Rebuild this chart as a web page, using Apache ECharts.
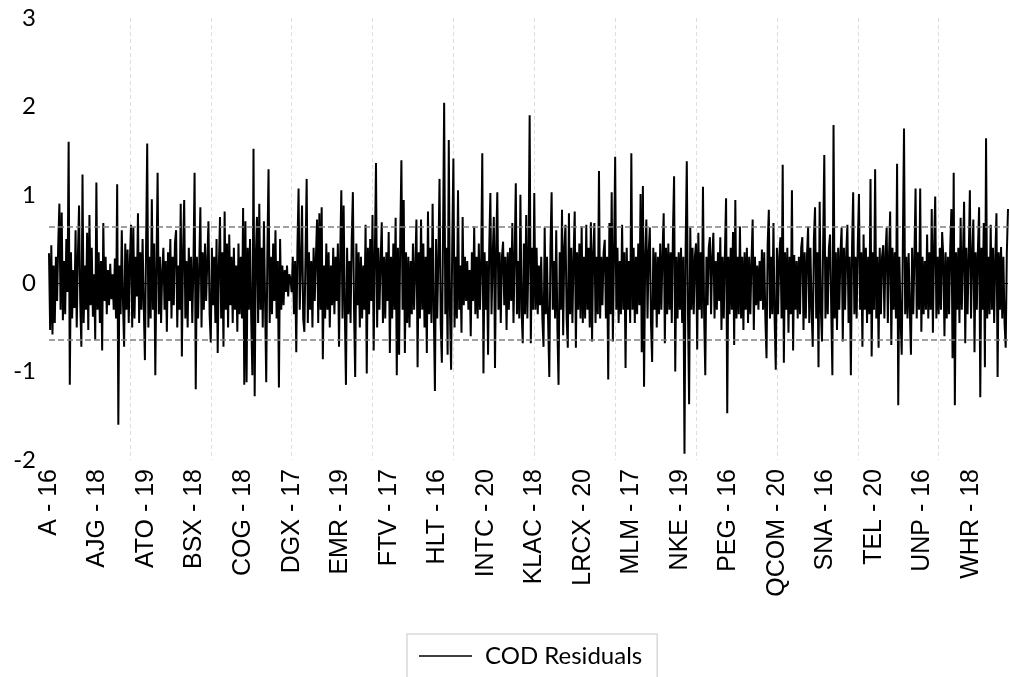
<!DOCTYPE html>
<html>
<head>
<meta charset="utf-8">
<script src="https://cdn.jsdelivr.net/npm/echarts@6/dist/echarts.min.js"></script>
<style>html,body{margin:0;padding:0;background:#fff}#c{width:1010px;height:677px}</style>
</head>
<body>
<div id="c"></div>
<script>
const tickLabels = ['A - 16','AJG - 18','ATO - 19','BSX - 18','COG - 18','DGX - 17','EMR - 19','FTV - 17','HLT - 16','INTC - 20','KLAC - 18','LRCX - 20','MLM - 17','NKE - 19','PEG - 16','QCOM - 20','SNA - 16','TEL - 20','UNP - 16','WHR - 18'];
const labelEvery = 42;
const gridEvery = 70;
const bandLevels = [0.635, -0.635];
const residuals = [
0.34,-0.53,0.43,-0.58,0.2,-0.45,0.3,-0.2,0.45,0.9,-0.3,0.8,-0.42,0.25,-0.35,0.5,-0.1,1.6,-1.15,0.35,-0.4,0.15,-0.28,0.6,-0.5,0.3,0.88,-0.2,-0.72,1.23,-0.45,0.2,-0.3,0.57,-0.53,0.77,-0.25,0.4,-0.38,0.1,-0.64,1.14,
-0.3,0.35,-0.45,0.25,-0.76,0.68,-0.2,0.3,-0.35,0.15,-0.25,0.22,-0.18,0.1,-0.3,0.28,-0.4,1.12,-1.6,0.2,-0.35,0.6,-0.2,-0.72,0.45,-0.3,0.38,-0.45,0.25,0.66,-0.5,0.63,-0.4,0.3,-0.15,0.79,-0.45,0.35,-0.3,0.5,-0.25,-0.87,
0.4,1.58,-0.5,0.3,-0.4,0.95,-0.3,0.45,-1.04,0.2,1.25,-0.35,0.3,-0.45,0.15,0.4,-0.3,0.25,-0.55,0.35,-0.2,0.5,-0.4,0.3,-0.25,0.45,0.6,-0.5,0.2,-0.3,0.9,-0.83,0.35,0.94,-0.4,0.25,-0.5,0.4,-0.2,0.3,-0.45,0.2,
1.25,-1.2,0.3,-0.4,0.2,0.86,-0.5,0.35,-0.3,0.45,-0.2,0.25,0.7,-0.35,-0.67,0.4,-0.25,0.3,-0.45,0.5,-0.79,0.2,0.75,-0.4,0.35,-0.72,0.81,-0.3,0.45,-0.5,0.55,-0.25,0.3,-0.45,0.4,-0.3,0.2,-0.55,0.45,-0.35,0.3,-0.4,
0.85,-1.15,0.7,-1.12,0.4,-0.3,0.5,-0.4,-1.04,1.52,-1.28,0.3,0.75,-0.45,0.9,-0.3,0.4,-0.5,0.7,-0.2,-1.12,0.35,1.29,-0.45,0.3,-0.35,0.45,-0.2,0.6,-0.4,0.25,-1.18,0.5,-0.3,0.2,-0.25,0.15,-0.1,0.2,-0.15,0.1,0.05,
-0.1,0.3,-0.35,0.25,-0.78,0.4,1.07,-0.3,0.2,0.88,-0.4,-0.55,0.3,1.18,-0.45,0.35,-0.3,0.25,-0.5,0.4,-0.2,0.3,0.72,-0.45,0.79,-0.3,0.86,-0.86,0.2,-0.4,0.45,-0.3,0.35,-0.5,0.2,-0.25,0.4,-0.35,0.3,-0.2,0.45,-0.72,
0.3,1.05,-0.4,0.88,-0.3,-1.15,0.4,-0.35,0.25,-0.45,0.5,1.03,-0.3,-1.06,0.45,-0.25,0.35,-0.5,0.3,-0.4,0.2,-0.3,0.66,-1.02,0.4,-0.35,0.5,-0.2,0.77,-0.76,0.3,1.36,-0.5,0.4,-0.3,0.25,0.69,-0.45,0.3,-0.4,0.35,-0.2,
0.58,-0.79,0.3,-0.4,0.45,-0.3,0.74,-1.04,0.4,-0.81,0.5,1.39,-0.3,0.94,-0.79,0.35,-0.45,0.3,-0.5,0.25,-0.35,0.45,-0.3,0.2,0.72,-0.95,0.35,-0.4,0.72,-0.3,0.45,-0.5,0.3,-0.79,0.81,-0.35,0.4,-0.45,0.9,-0.3,-1.22,0.5,
-0.4,0.3,1.18,-0.45,-0.9,0.5,2.04,-0.35,0.4,-0.81,1.62,-0.3,-0.98,0.45,1.41,-0.5,0.3,-0.4,1.05,-0.3,0.2,-0.56,0.75,-0.25,0.3,-0.2,0.25,-0.3,0.15,-0.6,0.35,-0.2,0.64,-0.35,0.3,-0.4,0.45,-0.3,0.2,1.47,-1.02,0.35,
-0.3,0.25,-0.81,0.4,1.02,-0.35,0.3,0.75,-0.96,0.4,1.03,-0.3,0.35,-0.45,0.3,0.47,-0.25,0.3,-0.53,0.35,-0.3,0.4,-0.2,0.68,-0.45,0.3,1.13,-0.35,0.25,-0.4,1.0,-0.3,-0.68,0.45,-0.35,0.77,-0.4,0.3,1.9,-0.68,0.4,-0.3,
1.02,-0.3,0.4,-0.35,0.2,-0.25,0.3,-0.4,-0.72,0.63,-0.35,0.3,-0.45,-1.06,0.4,1.03,-0.3,0.25,-0.4,0.6,-0.5,-1.15,0.35,-0.3,0.83,-0.59,0.4,0.66,-0.4,-0.73,0.79,-0.35,0.4,-0.45,0.3,0.81,-0.73,0.35,-0.3,0.45,-0.4,0.64,
-0.45,0.3,-0.4,0.66,-0.3,0.4,-0.5,0.69,-0.66,0.35,0.68,-0.45,0.3,-0.35,1.27,-0.4,0.3,-0.25,0.35,0.49,-0.4,0.3,-1.09,0.68,-0.35,1.03,-0.66,0.3,1.43,-0.3,0.4,-0.45,0.25,-0.35,0.66,-0.3,0.35,-0.96,0.4,-0.3,0.25,-0.45,
1.47,-0.3,0.4,-0.45,0.3,-0.35,0.45,-0.25,1.01,-0.78,1.1,-1.17,0.3,0.72,-0.4,0.35,0.63,-0.45,-0.89,0.4,-0.3,0.35,-0.5,0.3,-0.35,0.45,-0.3,0.35,0.79,-0.68,0.4,-0.35,0.45,-0.3,0.35,-0.45,0.57,1.21,-1.0,0.3,-0.4,0.35,
-0.3,0.4,-0.45,0.3,-1.93,0.4,1.38,-0.3,-1.37,0.63,-0.3,0.4,-0.35,0.3,0.45,-0.75,0.57,-0.3,0.35,-0.4,1.09,-0.35,-1.04,0.3,-0.25,0.4,0.52,-0.35,0.3,0.57,-0.4,0.25,-0.3,0.35,-0.2,0.52,-0.53,0.3,-0.4,0.35,0.96,-1.47,
0.3,-0.35,0.4,-0.3,0.58,-0.7,0.94,-0.4,0.3,-0.35,0.64,-0.4,0.3,-0.53,0.35,-0.3,0.4,-0.45,0.3,-0.35,0.25,0.72,-0.53,0.3,-0.25,0.2,-0.3,0.25,-0.2,0.38,-0.3,0.35,-0.4,-0.85,0.45,0.83,-0.4,0.3,-0.35,0.68,-0.4,-0.98,
0.4,-0.35,0.3,0.52,-0.4,1.34,-0.9,0.35,-0.3,0.4,-0.56,0.3,-0.35,1.05,-0.76,0.32,-0.3,0.25,-0.4,0.3,-0.35,0.4,0.52,-0.53,0.35,-0.4,0.3,0.64,-0.45,0.4,-0.3,-0.72,0.5,0.86,-0.4,0.35,-0.95,0.92,-0.3,-0.66,0.45,1.45,
-0.4,0.3,-0.35,0.4,0.55,-0.3,-1.04,1.79,-0.4,0.35,-0.53,0.4,-0.3,0.35,0.63,-0.66,0.4,-0.3,0.35,0.66,-0.45,0.3,-1.04,0.4,1.03,-0.35,0.3,-0.4,0.45,1.01,-0.3,0.35,-0.72,0.55,-0.3,0.4,-0.45,0.3,-0.35,1.18,-0.83,0.35,
-0.3,1.29,-0.4,0.3,-0.73,0.4,-0.35,0.3,0.43,-0.4,0.35,0.63,-0.45,0.3,0.81,-0.7,0.4,-0.3,0.35,-0.4,1.35,-1.38,0.3,-0.4,-0.81,0.45,1.75,-0.35,0.3,-0.4,0.34,-0.3,-0.81,0.4,-0.35,0.3,1.07,-0.4,0.35,-0.3,1.07,-0.55,
0.3,-0.35,0.25,-0.3,0.55,-0.4,0.35,-0.3,0.84,-0.56,0.4,0.98,-0.4,0.3,-0.35,0.4,-0.3,0.58,0.3,-0.6,0.35,-0.4,0.3,-0.35,0.4,0.84,-0.85,1.25,-1.38,0.35,-0.3,0.4,-0.45,0.74,-0.3,0.3,0.92,-0.68,0.4,-0.35,0.3,1.05,
-0.4,0.3,0.72,-0.78,0.35,-0.3,0.4,0.86,-1.29,0.4,-0.3,0.68,-0.95,1.64,-0.4,0.3,-0.35,0.66,-0.3,0.4,-0.45,0.3,0.79,-1.06,0.35,-0.3,0.41,-0.4,0.3,-0.45,-0.73,0.35,0.84
];
const lastIndex = residuals.length - 1;
const chart = echarts.init(document.getElementById('c'), null, {renderer: 'canvas'});
chart.setOption({
  animation: false,
  backgroundColor: '#fff',
  grid: {left: 49, right: 2, top: 18, bottom: 217, containLabel: false},
  legend: {
    show: true,
    left: 407, top: 634,
    orient: 'horizontal',
    padding: [10, 15, 40, 12],
    borderColor: '#d9d9d9', borderWidth: 1.5,
    itemWidth: 53, itemHeight: 14,
    textStyle: {fontFamily: 'Lato', fontSize: 24, color: '#000', padding: [0, 0, 0, 8]},
    data: [{name: 'COD Residuals', icon: 'path://M0,0 L53,0 L53,1.5 L0,1.5 Z', itemStyle: {color: '#000'}}]
  },
  xAxis: [{
    type: 'value', min: 0, max: lastIndex, interval: labelEvery,
    axisLine: {show: false}, axisTick: {show: false}, splitLine: {show: false},
    axisLabel: {
      rotate: 90, margin: 9, fontFamily: 'Liberation Sans', fontSize: 25, color: '#000',
      showMinLabel: true, showMaxLabel: true,
      formatter: v => (v % labelEvery === 0 && tickLabels[v / labelEvery]) ? tickLabels[v / labelEvery] : ''
    }
  }, {
    type: 'value', min: 0, max: lastIndex, interval: gridEvery, position: 'bottom',
    axisLine: {show: false}, axisTick: {show: false}, axisLabel: {show: false},
    splitLine: {show: true, showMinLine: false, showMaxLine: false, lineStyle: {color: '#dedede', width: 1, type: [4, 3]}}
  }],
  yAxis: {
    type: 'value', min: -2, max: 3, interval: 1,
    axisLine: {show: false}, axisTick: {show: false}, splitLine: {show: false},
    axisLabel: {fontFamily: 'Lato', fontSize: 24, color: '#000', margin: 13}
  },
  series: [{
    name: 'COD Residuals', type: 'line', xAxisIndex: 0,
    data: residuals.map((v, i) => [i, v]),
    showSymbol: false, symbol: 'none',
    lineStyle: {color: '#000', width: 2},
    itemStyle: {color: '#000'},
    markLine: {
      silent: true, symbol: 'none', label: {show: false},
      data: [
        {yAxis: 0, lineStyle: {color: '#000', width: 1, type: 'solid'}},
        ...bandLevels.map(b => ({yAxis: b, lineStyle: {color: '#808080', width: 1.5, type: [6, 3]}}))
      ]
    }
  }]
});
</script>
</body>
</html>
